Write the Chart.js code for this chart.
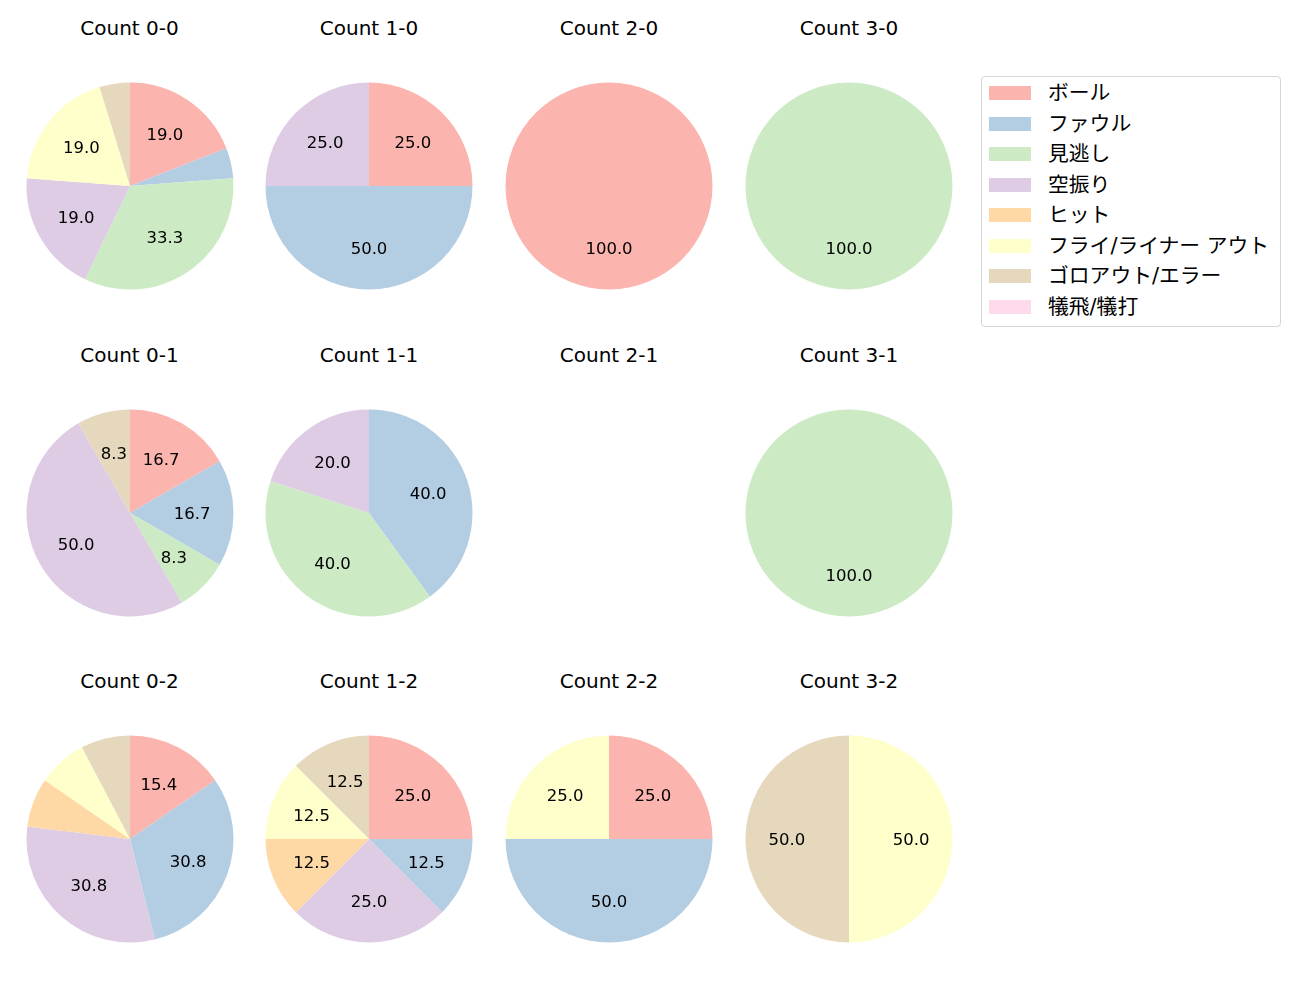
<!DOCTYPE html>
<html>
<head>
<meta charset="utf-8">
<script src="https://cdn.jsdelivr.net/npm/chart.js@4"></script>
<style>
  body { margin: 0; background: #fff; font-family: "DejaVu Sans", "Noto Sans CJK JP", sans-serif; }
  #page { position: relative; width: 1300px; height: 1000px; }
  .cell { position: absolute; width: 240px; height: 240px; }
  .title { position: absolute; width: 240px; text-align: center; font-size: 20px; color: #000; line-height: 24px; }
  #legend { position: absolute; left: 981px; top: 76px; width: 298px; height: 249px;
            border: 1px solid #d6d6d6; border-radius: 4px; }
  .item { position: absolute; left: 7px; height: 24px; font-size: 20.8px; line-height: 24px; color: #000; }
  .swatch { position: absolute; left: 0; top: 5px; width: 42px; height: 14px; }
  .item span { position: absolute; left: 59px; white-space: nowrap; }
</style>
</head>
<body>
<div id="page"></div>
<script>
// pitch result categories (legend order)
const categories = ['ボール', 'ファウル', '見逃し', '空振り', 'ヒット', 'フライ/ライナー アウト', 'ゴロアウト/エラー', '犠飛/犠打'];
const colors = ['#fbb4ae', '#b3cde3', '#ccebc5', '#decbe4', '#fed9a6', '#ffffcc', '#e5d8bd', '#fddaec'];

// counts, row by row (strikes 0..2), columns balls 0..3
const countLabels = ['Count 0-0', 'Count 1-0', 'Count 2-0', 'Count 3-0',
                     'Count 0-1', 'Count 1-1', 'Count 2-1', 'Count 3-1',
                     'Count 0-2', 'Count 1-2', 'Count 2-2', 'Count 3-2'];

// number of pitches per category for each count
const c00 = [4, 1, 7, 4, 0, 4, 1, 0];
const c10 = [1, 2, 0, 1, 0, 0, 0, 0];
const c20 = [1, 0, 0, 0, 0, 0, 0, 0];
const c30 = [0, 0, 1, 0, 0, 0, 0, 0];
const c01 = [2, 2, 1, 6, 0, 0, 1, 0];
const c11 = [0, 2, 2, 1, 0, 0, 0, 0];
const c21 = [0, 0, 0, 0, 0, 0, 0, 0];
const c31 = [0, 0, 1, 0, 0, 0, 0, 0];
const c02 = [2, 4, 0, 4, 1, 1, 1, 0];
const c12 = [2, 1, 0, 2, 1, 1, 1, 0];
const c22 = [1, 2, 0, 0, 0, 1, 0, 0];
const c32 = [0, 0, 0, 0, 0, 1, 1, 0];
const countValues = [c00, c10, c20, c30, c01, c11, c21, c31, c02, c12, c22, c32];

const colX = [129.5, 369, 609, 849];
const rowY = [186, 512.5, 839];

// percent labels drawn at 60% of the radius, like autopct
const pctLabels = {
    id: 'pctLabels',
    afterDatasetsDraw(chart) {
        const vals = chart.data.datasets[0].data;
        const total = vals.reduce((a, b) => a + b, 0);
        if (!total) return;
        const ctx = chart.ctx;
        ctx.save();
        ctx.font = '16.5px "DejaVu Sans", sans-serif';
        ctx.fillStyle = '#000';
        ctx.textAlign = 'center';
        ctx.textBaseline = 'alphabetic';
        chart.getDatasetMeta(0).data.forEach((arc, i) => {
            const pct = vals[i] / total * 100;
            if (pct < 8) return;
            const p = arc.getProps(['x', 'y', 'startAngle', 'endAngle', 'outerRadius'], true);
            const mid = (p.startAngle + p.endAngle) / 2;
            const r = p.outerRadius * 0.6;
            // digits are ~0.73em tall, so drop the baseline by half of that
            ctx.fillText(pct.toFixed(1), p.x + Math.cos(mid) * r, p.y + Math.sin(mid) * r + 5.6);
        });
        ctx.restore();
    }
};

const page = document.getElementById('page');

countLabels.forEach((label, idx) => {
    const cx = colX[idx % 4];
    const cy = rowY[Math.floor(idx / 4)];

    const title = document.createElement('div');
    title.className = 'title';
    title.style.left = (cx - 120) + 'px';
    title.style.top = (cy - 170) + 'px';
    title.textContent = label;
    page.appendChild(title);

    const cell = document.createElement('div');
    cell.className = 'cell';
    cell.style.left = (cx - 120) + 'px';
    cell.style.top = (cy - 120) + 'px';
    const canvas = document.createElement('canvas');
    canvas.width = 240;
    canvas.height = 240;
    cell.appendChild(canvas);
    page.appendChild(cell);

    new Chart(canvas, {
        type: 'pie',
        data: {
            labels: categories,
            datasets: [{
                data: countValues[idx],
                backgroundColor: colors,
                borderWidth: 0,
                hoverOffset: 0
            }]
        },
        options: {
            responsive: false,
            animation: false,
            events: [],
            radius: 103.5,
            layout: { padding: 0 },
            plugins: {
                legend: { display: false },
                tooltip: { enabled: false }
            }
        },
        plugins: [pctLabels]
    });
});

// legend box
const legend = document.createElement('div');
legend.id = 'legend';
categories.forEach((name, i) => {
    const item = document.createElement('div');
    item.className = 'item';
    item.style.top = (4 + i * 30.5) + 'px';
    const sw = document.createElement('div');
    sw.className = 'swatch';
    sw.style.background = colors[i];
    const txt = document.createElement('span');
    txt.textContent = name;
    item.appendChild(sw);
    item.appendChild(txt);
    legend.appendChild(item);
});
page.appendChild(legend);
</script>
</body>
</html>
